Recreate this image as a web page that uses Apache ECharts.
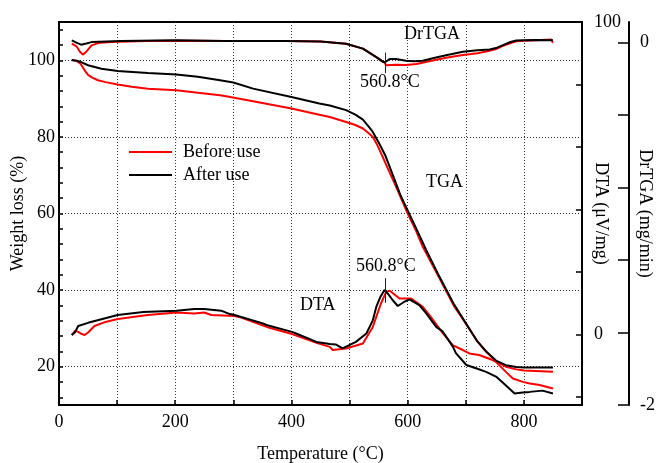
<!DOCTYPE html>
<html>
<head>
<meta charset="utf-8">
<script src="https://cdn.jsdelivr.net/npm/echarts@6/dist/echarts.min.js"></script>
<style>html,body{margin:0;padding:0;background:#fff}#c{width:658px;height:463px}</style>
</head>
<body>
<div id="c"></div>
<script>
// ---- data: [temperature (°C), value] ----
const tgaBefore = [[22,100.1],[30,99.9],[37,99.1],[45,97.2],[50,96.2],[58,95.4],[67,94.8],[80,94.3],[101,93.7],[125,93.1],[153,92.6],[202,92.2],[239,91.5],[277,90.9],[285,90.7],[334,89.3],[400,87.4],[448,85.8],[466,85.2],[494,83.9],[510,83.1],[523,82.2],[534,80.8],[540,80.0],[548,77.8],[557,74.8],[568,71.0],[580,67.0],[600,60.0],[615,55.3],[626,51.3],[655,43.0],[680,35.8],[701,31.0],[720,26.6],[735,23.9],[752,21.4],[769,20.0],[787,19.3],[800,19.0],[820,18.9],[850,18.7]];
const tgaAfter = [[22,100.1],[30,99.9],[37,99.6],[50,98.7],[73,97.8],[101,97.2],[153,96.7],[202,96.3],[239,95.7],[277,94.8],[300,94.2],[334,92.6],[400,90.4],[448,88.7],[466,88.2],[494,87.0],[510,85.8],[523,84.5],[534,82.5],[540,81.3],[551,78.3],[562,75.0],[574,70.2],[587,65.0],[600,60.8],[615,56.0],[632,50.4],[655,43.4],[680,36.2],[700,31.4],[720,26.6],[735,24.0],[752,21.6],[769,20.4],[787,19.9],[800,19.8],[830,19.8],[850,19.8]];
const dtaBefore = [[22,-0.2],[28,1.2],[33,0.8],[38,0.2],[44,-0.2],[50,0.6],[61,2.7],[80,4.0],[101,4.9],[153,6.2],[202,7.0],[233,6.7],[250,7.0],[262,6.2],[302,5.9],[310,5.6],[362,2.1],[401,0.1],[443,-2.7],[466,-4.0],[471,-5.0],[494,-4.5],[523,-2.9],[540,2.4],[554,9.9],[563,13.6],[569,14.0],[586,11.5],[606,11.5],[626,8.8],[640,5.5],[660,0.5],[678,-3.5],[695,-5.0],[706,-6.1],[723,-6.6],[746,-8.2],[752,-8.8],[769,-12.0],[781,-14.1],[798,-15.2],[810,-15.7],[827,-16.2],[850,-17.3]];
const dtaAfter = [[22,-0.2],[28,0.8],[33,2.7],[50,3.7],[101,6.2],[145,7.2],[202,7.6],[233,8.1],[250,8.1],[279,7.6],[294,6.5],[302,6.2],[351,3.5],[357,3.0],[401,0.8],[408,0.3],[443,-2.4],[466,-3.1],[476,-3.2],[488,-4.5],[511,-2.4],[529,0.3],[540,4.5],[546,8.8],[553,12.0],[560,14.2],[567,12.8],[574,11.0],[583,9.1],[593,10.3],[603,11.2],[620,9.4],[632,6.7],[649,2.4],[660,1.0],[678,-4.0],[683,-6.0],[701,-9.8],[720,-11.0],[735,-12.0],[752,-13.5],[764,-15.5],[784,-18.9],[798,-18.6],[810,-18.4],[832,-18.0],[850,-18.9]];
const drtgaBefore = [[22,-0.006],[30,-0.02],[36,-0.05],[41,-0.066],[47,-0.05],[56,-0.015],[70,0.0],[90,0.003],[150,0.009],[202,0.011],[285,0.009],[391,0.009],[450,0.006],[494,-0.006],[523,-0.033],[546,-0.08],[560,-0.11],[563,-0.125],[580,-0.122],[597,-0.124],[615,-0.118],[637,-0.103],[666,-0.083],[695,-0.068],[720,-0.058],[741,-0.045],[752,-0.035],[764,-0.018],[775,-0.005],[787,0.008],[800,0.011],[820,0.013],[847,0.018],[850,0.0]];
const drtgaAfter = [[22,0.013],[30,0.0],[38,-0.011],[47,-0.005],[56,0.003],[107,0.009],[202,0.013],[285,0.009],[391,0.009],[450,0.007],[494,-0.006],[523,-0.033],[546,-0.08],[557,-0.105],[561,-0.108],[569,-0.09],[580,-0.09],[597,-0.1],[612,-0.103],[626,-0.1],[645,-0.085],[666,-0.07],[695,-0.05],[720,-0.042],[741,-0.038],[752,-0.03],[764,-0.014],[775,0.002],[787,0.012],[800,0.013],[820,0.014],[850,0.013]];
const peakTemp = 560.8;
const xLabels = [0,200,400,600,800];
const wLabels = [20,40,60,80,100];
const wTicks = [12,16,20,24,28,32,36,40,44,48,52,56,60,64,68,72,76,80,84,88,92,96,100,104,108];
const dtaTicks = [-20,0,20,40,60,80,100];
const dtaLabels = [0,100];
const drTicks = [-2,-1.6,-1.2,-0.8,-0.4,0];
const drLabels = [-2,0];

const FONT = 'Liberation Serif';
const txt = {fontFamily: FONT, fontSize: 18, color: '#000'};
const chart = echarts.init(document.getElementById('c'), null, {renderer: 'canvas'});
const RED = '#ff0000', BLK = '#000000';
function line(name, data, y, color, extra) {
  return Object.assign({
    type: 'line', name: name, data: data, yAxisIndex: y, symbol: 'none', showSymbol: false, smooth: false,
    lineStyle: {color: color, width: 2}, itemStyle: {color: color}, z: color === BLK ? 4 : 3
  }, extra || {});
}
chart.setOption({
  animation: false,
  grid: {left: 59, top: 22, right: 76, bottom: 58, outerBoundsMode: 'none', containLabel: false,
    show: true, borderColor: '#000', borderWidth: 2, backgroundColor: 'transparent'},
  legend: {
    data: ['Before use', 'After use'], orient: 'vertical', left: 129, top: 142, padding: 0,
    icon: 'rect', itemWidth: 43, itemHeight: 2, itemGap: 3,
    textStyle: Object.assign({}, txt, {lineHeight: 20, padding: [0, 0, 0, 6]})
  },
  xAxis: {
    type: 'value', min: 0, max: 900, interval: 100,
    name: 'Temperature (°C)', nameLocation: 'middle', nameGap: 40, nameMoveOverlap: false, nameTextStyle: txt,
    axisLine: {onZero: false, lineStyle: {color: '#000', width: 2}},
    axisTick: {inside: true, length: 5, lineStyle: {color: '#000', width: 1.5}},
    axisLabel: Object.assign({customValues: xLabels, margin: 8}, txt),
    splitLine: {show: true, lineStyle: {type: [1, 2], color: '#333', width: 1}}
  },
  yAxis: [
    {
      type: 'value', min: 10, max: 110, position: 'left',
      name: 'Weight loss (%)', nameLocation: 'middle', nameGap: 32, nameMoveOverlap: false, nameTextStyle: txt,
      axisLine: {show: true, onZero: false, lineStyle: {color: '#000', width: 2}},
      axisTick: {show: true, inside: true, length: 4, customValues: wTicks, lineStyle: {color: '#000', width: 1.5}},
      axisLabel: Object.assign({customValues: wLabels, margin: 4}, txt),
      splitLine: {show: false}
    },
    {
      type: 'value', min: -22.6, max: 100, position: 'right', offset: 0,
      name: 'DTA (μV/mg)', nameLocation: 'middle', nameGap: 10, nameRotate: -90, nameMoveOverlap: false, nameTextStyle: txt,
      axisLine: {show: true, onZero: false, lineStyle: {color: '#000', width: 2}},
      axisTick: {show: true, inside: true, length: 6, customValues: dtaTicks, lineStyle: {color: '#000', width: 1.5}},
      axisLabel: Object.assign({customValues: dtaLabels, margin: 12}, txt),
      splitLine: {show: false}
    },
    {
      type: 'value', min: -2, max: 0.114, position: 'right', offset: 47,
      name: 'DrTGA (mg/min)', nameLocation: 'middle', nameGap: 7, nameRotate: -90, nameMoveOverlap: false, nameTextStyle: txt,
      axisLine: {show: true, onZero: false, lineStyle: {color: '#000', width: 2}},
      axisTick: {show: true, inside: true, length: 11, customValues: drTicks, lineStyle: {color: '#000', width: 1.5}},
      axisLabel: Object.assign({customValues: drLabels, margin: 11}, txt),
      splitLine: {show: false}
    },
    {
      type: 'value', min: 10, max: 110, position: 'left', show: true,
      axisLine: {show: false}, axisLabel: {show: false},
      axisTick: {show: false, customValues: wLabels},
      splitLine: {show: true, lineStyle: {type: [1, 2], color: '#333', width: 1}}
    }
  ],
  graphic: [
    {type: 'text', left: 404, top: 25, style: {text: 'DrTGA', font: '18px "Liberation Serif"', fill: '#000'}},
    {type: 'text', left: 360, top: 73, style: {text: '560.8°C', font: '18px "Liberation Serif"', fill: '#000'}},
    {type: 'text', left: 426, top: 173, style: {text: 'TGA', font: '18px "Liberation Serif"', fill: '#000'}},
    {type: 'text', left: 300, top: 296, style: {text: 'DTA', font: '18px "Liberation Serif"', fill: '#000'}},
    {type: 'text', left: 356, top: 257, style: {text: '560.8°C', font: '18px "Liberation Serif"', fill: '#000'}}
  ],
  series: [
    line('Before use', tgaBefore, 0, RED),
    line('Before use', dtaBefore, 1, RED),
    line('Before use', drtgaBefore, 2, RED),
    line('After use', tgaAfter, 0, BLK),
    line('After use', dtaAfter, 1, BLK, {
      markLine: {silent: true, symbol: 'none', label: {show: false}, lineStyle: {color: '#222', width: 1, type: 'solid'},
        data: [[{coord: [peakTemp, 18.0]}, {coord: [peakTemp, 10.1]}]]}
    }),
    line('After use', drtgaAfter, 2, BLK, {
      markLine: {silent: true, symbol: 'none', label: {show: false}, lineStyle: {color: '#222', width: 1, type: 'solid'},
        data: [[{coord: [peakTemp, -0.055]}, {coord: [peakTemp, -0.168]}]]}
    })
  ]
});
</script>
</body>
</html>
